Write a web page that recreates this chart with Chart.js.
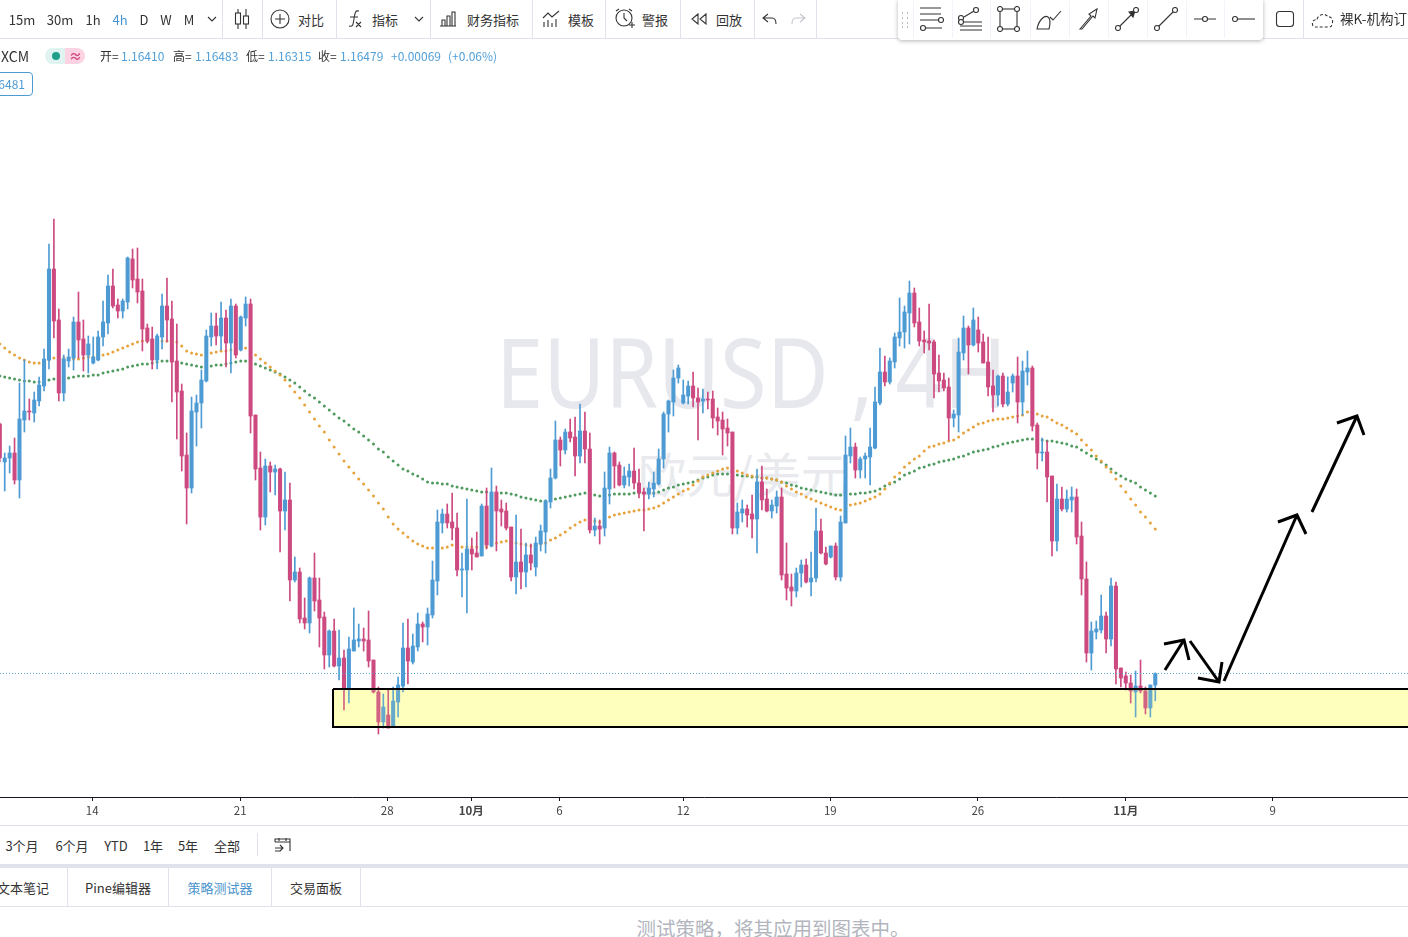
<!DOCTYPE html>
<html lang="zh">
<head>
<meta charset="utf-8">
<title>EURUSD 4H</title>
<script src="https://cdn.jsdelivr.net/npm/chart.js@4/dist/chart.umd.js"></script>
<style>
  html, body { margin: 0; padding: 0; background: #fff; overflow: hidden; }
  body { width: 1408px; height: 937px; position: relative; font-family: "Noto Sans CJK SC", "Noto Sans", sans-serif; color: #333; }
  #chart { position: absolute; left: 0; top: 40px; z-index: 1; }
  .t { position: absolute; white-space: nowrap; transform: translate(-50%, -50%); font-size: 13px; line-height: 1; z-index: 2; }
  .l { transform: translate(0, -50%); }
  .sep { position: absolute; width: 1px; background: #e0e3eb; z-index: 2; }
  .hr { position: absolute; left: 0; width: 1408px; height: 1px; background: #e0e3eb; z-index: 2; }
  .mark { position: absolute; white-space: nowrap; color: #e7e8ed; line-height: 1; z-index: 0; }
  svg.i { position: absolute; z-index: 4; fill: none; stroke: #333; stroke-width: 1.1; }
  #float { position: absolute; left: 898px; top: 0; width: 365px; height: 40px; background: #fff; border-radius: 0 0 4px 4px; box-shadow: 0 1px 4px rgba(0,0,0,.3); z-index: 3; }
  #tag { position: absolute; left: -10px; top: 72px; width: 41px; height: 22px; border: 1px solid #4e9bd4; border-radius: 4px; color: #4e9bd4; font-size: 12px; line-height: 22px; text-align: right; padding-right: 0; z-index: 2; }
  #tag span { margin-right: 7px; }
</style>
</head>
<body>
<div class="mark" style="left:496px;top:322px;font-size:97px;font-family:'Noto Sans';transform:scaleX(0.875);transform-origin:left top;">EURUSD , 4H</div>
<div class="mark" style="left:638px;top:448px;font-size:48px;color:#e9eaee;">欧元/美元</div>
<canvas id="chart" width="1408" height="785"></canvas>
<div id="float"></div>
<div id="tag"><span>6481</span></div>
<script>
// prices, one entry per 4h candle
const highs = [
1.17982,1.17802,1.17844,1.17892,1.18222,1.18360,1.18126,1.18168,1.18258,1.18426,1.19056,1.19206,1.18666,1.18390,1.18426,1.18618,1.18768,1.18600,1.18504,1.18498,
1.18534,1.18714,1.18870,1.18906,1.18726,1.18726,1.18978,1.19026,1.19032,1.18846,1.18576,1.18558,1.18516,1.18756,1.18852,1.18714,1.18576,1.18216,1.17922,1.18138,
1.18150,1.18300,1.18540,1.18642,1.18642,1.18708,1.18660,1.18726,1.18696,1.18624,1.18738,1.18726,1.18030,1.17808,1.17766,1.17748,1.17730,1.17712,1.17688,1.17622,
1.17178,1.17112,1.16932,1.17058,1.17202,1.17052,1.16848,1.16740,1.16806,1.16740,1.16620,1.16698,1.16872,1.16776,1.16752,1.16854,1.16560,1.16398,1.16356,1.16380,
1.16398,1.16458,1.16782,1.16806,1.16716,1.16842,1.16788,1.16872,1.17154,1.17460,1.17466,1.17496,1.17562,1.17442,1.17202,1.17526,1.17292,1.17328,1.17496,1.17592,
1.17712,1.17604,1.17520,1.17502,1.17358,1.17430,1.17346,1.17262,1.17256,1.17298,1.17370,1.17520,1.17706,1.17994,1.17898,1.17946,1.18006,1.18018,1.18096,1.18048,
1.17922,1.17412,1.17400,1.17688,1.17838,1.17808,1.17748,1.17718,1.17736,1.17832,1.17706,1.17592,1.17628,1.17688,1.17826,1.18048,1.18120,1.18300,1.18330,1.18240,
1.18234,1.18288,1.18192,1.18186,1.18168,1.18174,1.18072,1.18048,1.18006,1.17928,1.17502,1.17520,1.17490,1.17550,1.17706,1.17724,1.17586,1.17520,1.17574,1.17592,
1.17262,1.17076,1.17112,1.17160,1.17166,1.17208,1.17472,1.17406,1.17238,1.17244,1.17262,1.17424,1.17904,1.17952,1.17862,1.17778,1.17802,1.17952,1.18198,1.18432,
1.18384,1.18372,1.18522,1.18732,1.18684,1.18834,1.18792,1.18672,1.18534,1.18696,1.18480,1.18390,1.18282,1.18252,1.18060,1.18492,1.18624,1.18564,1.18672,1.18618,
1.18516,1.18498,1.18300,1.18270,1.18282,1.18258,1.18276,1.18378,1.18354,1.18414,1.18324,1.17982,1.17892,1.17874,1.17664,1.17616,1.17598,1.17580,1.17598,1.17586,
1.17388,1.17148,1.16788,1.16794,1.16950,1.16848,1.17052,1.17028,1.16512,1.16488,1.16470,1.16494,1.16560,1.16398,1.16410,1.16483];
const lows = [
1.17748,1.17574,1.17682,1.17616,1.17532,1.17928,1.18000,1.17988,1.18084,1.18174,1.18306,1.18492,1.18114,1.18114,1.18318,1.18300,1.18372,1.18294,1.18282,1.18336,
1.18354,1.18444,1.18516,1.18672,1.18612,1.18612,1.18666,1.18792,1.18702,1.18414,1.18462,1.18306,1.18306,1.18426,1.18468,1.18108,1.17886,1.17694,1.17376,1.17562,
1.17844,1.17952,1.18228,1.18444,1.18450,1.18420,1.18318,1.18282,1.18372,1.18414,1.18564,1.17922,1.17640,1.17340,1.17370,1.17568,1.17550,1.17208,1.17340,1.16914,
1.17028,1.16782,1.16746,1.16722,1.16854,1.16638,1.16506,1.16518,1.16518,1.16440,1.16260,1.16302,1.16614,1.16638,1.16614,1.16518,1.16362,1.16116,1.16152,1.16152,
1.16158,1.16218,1.16368,1.16416,1.16536,1.16614,1.16668,1.16650,1.16812,1.16950,1.17322,1.17352,1.17280,1.17064,1.16938,1.16842,1.17100,1.17178,1.17184,1.17226,
1.17238,1.17214,1.17364,1.17340,1.17034,1.16956,1.16986,1.16998,1.17100,1.17064,1.17214,1.17202,1.17472,1.17646,1.17724,1.17796,1.17868,1.17664,1.17742,1.17742,
1.17322,1.17304,1.17256,1.17304,1.17496,1.17592,1.17604,1.17592,1.17604,1.17586,1.17532,1.17334,1.17526,1.17538,1.17610,1.17712,1.17928,1.18024,1.18222,1.18096,
1.18096,1.18078,1.17880,1.18042,1.18066,1.17952,1.17910,1.17790,1.17844,1.17316,1.17316,1.17388,1.17358,1.17292,1.17202,1.17460,1.17448,1.17412,1.17442,1.17040,
1.16920,1.16884,1.16938,1.16998,1.17022,1.16944,1.17028,1.17196,1.17130,1.17172,1.17040,1.17034,1.17382,1.17742,1.17652,1.17652,1.17652,1.17610,1.17826,1.18090,
1.18204,1.18216,1.18312,1.18444,1.18432,1.18456,1.18558,1.18444,1.18402,1.18420,1.18132,1.18168,1.18174,1.17880,1.17958,1.17928,1.18360,1.18276,1.18444,1.18408,
1.18342,1.18144,1.18048,1.18084,1.18078,1.18084,1.18168,1.17982,1.18030,1.18210,1.17934,1.17706,1.17754,1.17508,1.17184,1.17214,1.17454,1.17448,1.17448,1.17256,
1.16950,1.16548,1.16500,1.16686,1.16722,1.16602,1.16644,1.16416,1.16398,1.16380,1.16302,1.16218,1.16362,1.16236,1.16218,1.16315];
const opens = [
1.17976,1.17748,1.17772,1.17802,1.17640,1.18000,1.18054,1.18042,1.18114,1.18204,
1.18360,1.18906,1.18600,1.18162,1.18354,1.18372,1.18588,1.18486,1.18390,1.18342,
1.18360,1.18498,1.18582,1.18804,1.18690,1.18654,1.18708,1.18966,1.18846,1.18774,
1.18552,1.18486,1.18360,1.18498,1.18684,1.18606,1.18354,1.18174,1.17790,1.17592,
1.18048,1.18102,1.18234,1.18498,1.18564,1.18504,1.18612,1.18462,1.18684,1.18420,
1.18612,1.18696,1.18030,1.17712,1.17418,1.17724,1.17688,1.17706,1.17454,1.17520,
1.17040,1.17088,1.16812,1.16782,1.17052,1.16920,1.16818,1.16590,1.16734,1.16524,
1.16572,1.16392,1.16614,1.16674,1.16686,1.16680,1.16560,1.16368,1.16188,1.16230,
1.16158,1.16308,1.16404,1.16632,1.16548,1.16638,1.16776,1.16758,1.16830,1.17034,
1.17382,1.17436,1.17388,1.17352,1.17100,1.17100,1.17226,1.17202,1.17184,1.17484,
1.17244,1.17568,1.17466,1.17454,1.17358,1.17058,1.17148,1.17088,1.17190,1.17118,
1.17256,1.17328,1.17508,1.17652,1.17880,1.17820,1.17928,1.17898,1.17784,1.17934,
1.17826,1.17340,1.17364,1.17352,1.17586,1.17802,1.17730,1.17610,1.17658,1.17694,
1.17622,1.17568,1.17556,1.17586,1.17616,1.17766,1.18036,1.18108,1.18252,1.18102,
1.18144,1.18204,1.18132,1.18114,1.18126,1.18126,1.18018,1.18000,1.17952,1.17928,
1.17352,1.17442,1.17466,1.17436,1.17406,1.17628,1.17526,1.17454,1.17484,1.17538,
1.17076,1.16998,1.16974,1.17082,1.17130,1.17028,1.17052,1.17334,1.17202,1.17178,
1.17244,1.17058,1.17382,1.17784,1.17838,1.17700,1.17766,1.17778,1.17832,1.18102,
1.18288,1.18228,1.18348,1.18492,1.18528,1.18642,1.18762,1.18588,1.18480,1.18474,
1.18468,1.18282,1.18240,1.18198,1.18012,1.18030,1.18402,1.18552,1.18450,1.18540,
1.18468,1.18348,1.18204,1.18150,1.18264,1.18096,1.18222,1.18264,1.18108,1.18288,
1.18312,1.17970,1.17802,1.17808,1.17664,1.17274,1.17526,1.17466,1.17520,1.17538,
1.17304,1.17046,1.16602,1.16728,1.16740,1.16824,1.16686,1.17004,1.16512,1.16464,
1.16422,1.16368,1.16404,1.16374,1.16272,1.16410];
const closes = [
1.17772,1.17772,1.17802,1.17640,1.18006,1.18054,1.18048,1.18120,1.18210,1.18366,
1.18906,1.18594,1.18162,1.18366,1.18378,1.18588,1.18480,1.18390,1.18456,1.18378,
1.18498,1.18588,1.18804,1.18684,1.18654,1.18714,1.18972,1.18840,1.18768,1.18546,
1.18474,1.18360,1.18504,1.18684,1.18600,1.18348,1.18168,1.17784,1.17592,1.18054,
1.18102,1.18240,1.18504,1.18564,1.18504,1.18612,1.18462,1.18684,1.18390,1.18618,
1.18696,1.18024,1.17706,1.17418,1.17724,1.17688,1.17706,1.17454,1.17520,1.17040,
1.17088,1.16806,1.16782,1.17052,1.16914,1.16812,1.16590,1.16734,1.16524,1.16572,
1.16392,1.16626,1.16680,1.16686,1.16674,1.16554,1.16368,1.16188,1.16278,1.16152,
1.16314,1.16410,1.16632,1.16554,1.16644,1.16776,1.16758,1.16836,1.17040,1.17388,
1.17436,1.17382,1.17352,1.17100,1.17106,1.17226,1.17196,1.17178,1.17484,1.17250,
1.17568,1.17454,1.17448,1.17352,1.17058,1.17148,1.17088,1.17190,1.17142,1.17262,
1.17334,1.17514,1.17652,1.17880,1.17820,1.17928,1.17892,1.17784,1.17934,1.17826,
1.17340,1.17364,1.17346,1.17592,1.17802,1.17724,1.17610,1.17664,1.17694,1.17622,
1.17562,1.17556,1.17592,1.17622,1.17766,1.18036,1.18114,1.18252,1.18312,1.18150,
1.18204,1.18132,1.18108,1.18126,1.18120,1.18012,1.17994,1.17946,1.17922,1.17352,
1.17448,1.17466,1.17430,1.17406,1.17628,1.17520,1.17454,1.17490,1.17538,1.17070,
1.16992,1.16974,1.17082,1.17130,1.17028,1.17052,1.17334,1.17202,1.17136,1.17244,
1.17058,1.17388,1.17790,1.17838,1.17700,1.17766,1.17784,1.17838,1.18108,1.18288,
1.18228,1.18354,1.18498,1.18528,1.18648,1.18762,1.18582,1.18474,1.18468,1.18462,
1.18276,1.18234,1.18192,1.18012,1.18036,1.18408,1.18552,1.18450,1.18600,1.18462,
1.18342,1.18198,1.18150,1.18264,1.18096,1.18168,1.18264,1.18108,1.18294,1.18312,
1.17964,1.17802,1.17808,1.17658,1.17274,1.17526,1.17466,1.17526,1.17538,1.17298,
1.17046,1.16602,1.16734,1.16746,1.16824,1.16686,1.17004,1.16506,1.16452,1.16422,
1.16374,1.16404,1.16374,1.16272,1.16410,1.16479];

// the two moving averages
const slowMA = [
1.18264,1.18258,1.18252,1.18246,1.18240,1.18234,1.18234,1.18228,1.18228,1.18234,1.18240,1.18246,1.18246,1.18246,1.18252,1.18258,1.18264,1.18264,1.18264,1.18270,
1.18270,1.18282,1.18288,1.18294,1.18300,1.18306,1.18318,1.18324,1.18330,1.18336,1.18336,1.18342,1.18348,1.18354,1.18354,1.18354,1.18348,1.18342,1.18336,1.18330,
1.18324,1.18318,1.18318,1.18324,1.18330,1.18330,1.18336,1.18342,1.18348,1.18354,1.18354,1.18348,1.18336,1.18324,1.18312,1.18300,1.18288,1.18276,1.18258,1.18240,
1.18222,1.18198,1.18174,1.18150,1.18132,1.18108,1.18084,1.18060,1.18036,1.18012,1.17994,1.17970,1.17946,1.17928,1.17904,1.17880,1.17856,1.17826,1.17808,1.17778,
1.17754,1.17730,1.17706,1.17694,1.17676,1.17664,1.17646,1.17628,1.17622,1.17622,1.17616,1.17616,1.17604,1.17598,1.17592,1.17586,1.17580,1.17574,1.17568,1.17568,
1.17562,1.17562,1.17562,1.17562,1.17556,1.17550,1.17538,1.17532,1.17526,1.17520,1.17514,1.17514,1.17520,1.17526,1.17532,1.17538,1.17544,1.17550,1.17556,1.17562,
1.17556,1.17550,1.17544,1.17550,1.17550,1.17556,1.17556,1.17556,1.17556,1.17562,1.17562,1.17562,1.17562,1.17562,1.17568,1.17580,1.17592,1.17598,1.17610,1.17616,
1.17622,1.17628,1.17640,1.17652,1.17658,1.17670,1.17676,1.17676,1.17676,1.17670,1.17670,1.17664,1.17664,1.17658,1.17658,1.17652,1.17652,1.17646,1.17640,1.17628,
1.17622,1.17610,1.17604,1.17592,1.17586,1.17580,1.17574,1.17568,1.17562,1.17556,1.17550,1.17550,1.17550,1.17556,1.17556,1.17562,1.17562,1.17568,1.17574,1.17586,
1.17604,1.17616,1.17628,1.17646,1.17670,1.17682,1.17694,1.17712,1.17718,1.17730,1.17736,1.17748,1.17754,1.17760,1.17766,1.17778,1.17784,1.17796,1.17808,1.17814,
1.17820,1.17826,1.17838,1.17844,1.17856,1.17862,1.17868,1.17874,1.17880,1.17886,1.17886,1.17880,1.17880,1.17874,1.17874,1.17868,1.17862,1.17856,1.17844,1.17838,
1.17820,1.17802,1.17784,1.17766,1.17748,1.17730,1.17706,1.17682,1.17664,1.17646,1.17634,1.17622,1.17598,1.17580,1.17562,1.17544];
const fastMA = [
1.18456,1.18432,1.18408,1.18390,1.18372,1.18360,1.18348,1.18342,1.18342,1.18348,1.18360,1.18372,1.18372,1.18372,1.18372,1.18366,1.18366,1.18372,1.18378,1.18378,
1.18384,1.18390,1.18396,1.18408,1.18420,1.18432,1.18444,1.18456,1.18468,1.18474,1.18474,1.18474,1.18474,1.18474,1.18474,1.18474,1.18468,1.18444,1.18414,1.18402,
1.18396,1.18390,1.18396,1.18402,1.18408,1.18414,1.18414,1.18420,1.18426,1.18432,1.18432,1.18414,1.18390,1.18366,1.18342,1.18318,1.18294,1.18270,1.18240,1.18204,
1.18168,1.18132,1.18090,1.18048,1.18006,1.17964,1.17928,1.17880,1.17838,1.17796,1.17754,1.17718,1.17682,1.17646,1.17616,1.17580,1.17544,1.17502,1.17466,1.17418,
1.17376,1.17346,1.17322,1.17298,1.17274,1.17256,1.17244,1.17232,1.17232,1.17226,1.17232,1.17238,1.17250,1.17244,1.17238,1.17238,1.17238,1.17238,1.17238,1.17238,
1.17250,1.17262,1.17268,1.17274,1.17268,1.17262,1.17256,1.17250,1.17244,1.17250,1.17256,1.17262,1.17280,1.17292,1.17310,1.17328,1.17352,1.17370,1.17388,1.17400,
1.17400,1.17394,1.17388,1.17406,1.17418,1.17430,1.17436,1.17442,1.17448,1.17454,1.17460,1.17460,1.17466,1.17472,1.17484,1.17502,1.17520,1.17538,1.17556,1.17574,
1.17586,1.17610,1.17634,1.17658,1.17670,1.17682,1.17694,1.17706,1.17712,1.17706,1.17694,1.17682,1.17670,1.17664,1.17658,1.17652,1.17652,1.17646,1.17640,1.17628,
1.17604,1.17586,1.17568,1.17556,1.17538,1.17526,1.17514,1.17502,1.17490,1.17478,1.17466,1.17460,1.17478,1.17490,1.17496,1.17502,1.17514,1.17526,1.17538,1.17556,
1.17586,1.17622,1.17658,1.17682,1.17718,1.17742,1.17766,1.17784,1.17814,1.17838,1.17844,1.17856,1.17862,1.17874,1.17880,1.17898,1.17922,1.17940,1.17958,1.17976,
1.17982,1.17994,1.18000,1.18006,1.18006,1.18012,1.18018,1.18024,1.18030,1.18048,1.18042,1.18036,1.18024,1.18018,1.18000,1.17982,1.17970,1.17952,1.17934,1.17916,
1.17880,1.17850,1.17820,1.17784,1.17754,1.17718,1.17688,1.17646,1.17604,1.17568,1.17526,1.17490,1.17448,1.17418,1.17382,1.17346];

// axis
const tickPositions = [18.8, 48.9, 78.8, 95.9, 113.8, 139, 168.9, 198.9, 229, 258.9];
const tickLabels = ['14', '21', '28', '10月', '6', '12', '19', '26', '11月', '9'];
const xRange = [0.04, 286.4];
const yRange = [1.15738, 1.2028];

// zone and hand drawn arrows, in candle index / price
const zoneX = [67.77, 300, 300, 67.77, 67.77];
const zoneY = [1.16386, 1.16386, 1.16158, 1.16158, 1.16386];
const arrowPathsX = [
  [236.97, 240.84], [236.77, 240.84, 241.86],
  [242.06, 247.96], [243.68, 247.96, 248.57],
  [248.98, 263.82], [259.95, 263.82, 265.65],
  [266.87, 276.02], [271.95, 276.02, 277.45]
];
const arrowPathsY = [
  [1.16500, 1.16680], [1.16656, 1.16680, 1.16560],
  [1.16674, 1.16428], [1.16452, 1.16428, 1.16548],
  [1.16434, 1.17430], [1.17388, 1.17430, 1.17316],
  [1.17448, 1.18024], [1.17982, 1.18024, 1.17910]
];

const UP = '#4e9bd4', DOWN = '#cc4a80';
const candleColor = (c) => { const i = c.dataIndex; return closes[i] >= opens[i] ? UP : DOWN; };
const zonePoints = zoneX.map((x, i) => ({ x, y: zoneY[i] }));

const datasets = [
  { type: 'line', data: zonePoints, borderWidth: 0, borderColor: 'transparent', pointRadius: 0, fill: 'shape', backgroundColor: '#ffffc4', order: 7 },
  { type: 'line', data: slowMA.map((y, x) => ({ x, y })), showLine: false, pointRadius: 1.5, pointBackgroundColor: '#4f9a5e', pointBorderWidth: 0, order: 6 },
  { type: 'line', data: fastMA.map((y, x) => ({ x, y })), showLine: false, pointRadius: 1.5, pointBackgroundColor: '#e6a23c', pointBorderWidth: 0, order: 5 },
  { type: 'bar', data: highs.map((h, x) => ({ x, y: [lows[x], h] })), backgroundColor: candleColor, barThickness: 1, grouped: false, order: 4 },
  { type: 'bar', data: opens.map((o, x) => ({ x, y: [o, closes[x]] })), backgroundColor: candleColor, barThickness: 3.4, minBarLength: 1, grouped: false, order: 3 },
  { type: 'line', data: zonePoints, borderColor: '#000', borderWidth: 2, pointRadius: 0, fill: 'shape', backgroundColor: 'rgba(255,255,150,0.14)', order: 2 },
  { type: 'line', data: [{ x: xRange[0], y: closes[closes.length - 1] }, { x: xRange[1], y: closes[closes.length - 1] }], borderColor: '#5aa3d6', borderWidth: 1, borderDash: [1, 2], pointRadius: 0, order: 1 }
];
arrowPathsX.forEach((xs, k) => {
  datasets.push({ type: 'line', data: xs.map((x, i) => ({ x, y: arrowPathsY[k][i] })), borderColor: '#000', borderWidth: 3, pointRadius: 0, order: 0 });
});

new Chart(document.getElementById('chart'), {
  type: 'bar',
  data: { datasets },
  options: {
    responsive: false,
    animation: false,
    events: [],
    layout: { padding: 0, autoPadding: false },
    plugins: { legend: { display: false }, tooltip: { enabled: false } },
    scales: {
      x: {
        type: 'linear',
        offset: false,
        min: xRange[0],
        max: xRange[1],
        afterBuildTicks: (s) => { s.ticks = tickPositions.map((value) => ({ value })); },
        afterFit: (s) => { s.height = 28; },
        grid: { offset: false, drawOnChartArea: false, tickLength: 4, tickColor: '#131722', tickWidth: 1 },
        border: { color: '#131722', width: 1 },
        ticks: {
          autoSkip: false,
          maxRotation: 0,
          padding: 3,
          color: '#444',
          callback: (v, i) => tickLabels[i],
          font: (c) => ({ family: '"Noto Sans CJK SC", "Noto Sans"', size: 11.5, weight: String(tickLabels[c.index]).includes('月') ? 'bold' : 'normal' })
        }
      },
      y: { display: false, min: yRange[0], max: yRange[1] }
    }
  }
});

// page chrome round the chart
const BLUE = '#4a93cc';
function text(str, x, y, opts) {
  const o = opts || {};
  const el = document.createElement('div');
  el.className = 't' + (o.left ? ' l' : '');
  el.textContent = str;
  el.style.left = x + 'px';
  el.style.top = y + 'px';
  if (o.size) el.style.fontSize = o.size + 'px';
  if (o.color) el.style.color = o.color;
  if (o.z) el.style.zIndex = o.z;
  document.body.appendChild(el);
}
function sep(x, y, h, z, c) {
  const el = document.createElement('div');
  el.className = 'sep';
  el.style.cssText = `left:${x}px;top:${y}px;height:${h}px;` + (z ? `z-index:${z};` : '') + (c ? `background:${c};` : '');
  document.body.appendChild(el);
}
function hr(y, h, c) {
  const el = document.createElement('div');
  el.className = 'hr';
  el.style.cssText = `top:${y}px;` + (h ? `height:${h}px;` : '') + (c ? `background:${c};` : '');
  document.body.appendChild(el);
}
function icon(x, y, w, h, body, extra) {
  document.body.insertAdjacentHTML('beforeend', `<svg class="i" style="left:${x - w / 2}px;top:${y - h / 2}px;${extra || ''}" width="${w}" height="${h}" viewBox="0 0 ${w} ${h}">${body}</svg>`);
}

hr(38);
[['15m', 22], ['30m', 60], ['1h', 93], ['D', 144], ['W', 166], ['M', 189], ['对比', 311], ['指标', 385], ['财务指标', 493], ['模板', 581], ['警报', 655], ['回放', 729]]
  .forEach(([s, x]) => text(s, x, 19));
text('4h', 120, 19, { color: BLUE });
[222, 262, 336, 430, 532, 605, 680, 754, 816, 1303].forEach((x) => sep(x, 0, 38));
const chev = '<path d="M1 1l4 4 4-4"/>';
icon(212, 19, 10, 6, chev);
icon(419, 19, 10, 6, chev);
icon(242, 19, 16, 22, '<path d="M4 1v20M12 1v20" /><rect x="1.5" y="5" width="5" height="11" fill="#fff"/><rect x="9.5" y="8" width="5" height="8" fill="#fff"/>');
icon(280, 19, 20, 20, '<circle cx="10" cy="10" r="9"/><path d="M10 5v10M5 10h10"/>');
icon(355, 19, 16, 20, '<path d="M12 2c-4-1-4 2-5 8s-1 8-5 7M3 8h8M9 13l5 5M14 13l-5 5"/>');
icon(448, 19, 18, 16, '<path d="M1 15h16M3 15V9h3v6M8 15V5h3v10M13 15V1h3v14"/>');
icon(551, 19, 18, 18, '<path d="M1 8l5-5 4 4 7-6M2 17v-5M6 17v-7M10 17v-4M14 17v-8"/>');
icon(625, 19, 22, 22, '<circle cx="10" cy="10" r="8"/><path d="M10 5v5l3 3M2 3l3-2M15 1l3 2M15 17h6M18 14v6"/>');
icon(699, 19, 16, 12, '<path d="M7 1L1 6l6 5zM15 1L9 6l6 5z"/>');
icon(770, 19, 16, 12, '<path d="M6 1L1 5l5 4M1 5h9c3 0 4 3 4 6"/>');
icon(798, 19, 16, 12, '<path d="M10 1l5 4-5 4M15 5H6C3 5 2 8 2 11"/>', 'stroke:#c4c6cc;');
text('XCM', 15, 56, { size: 14 });
// status pill
document.body.insertAdjacentHTML('beforeend', '<div style="position:absolute;left:45px;top:48px;width:40px;height:16px;border-radius:8px;overflow:hidden;z-index:2;background:linear-gradient(90deg,#dff3f1 50%,#fbd3e2 50%);"><div style="position:absolute;left:7px;top:4px;width:8px;height:8px;border-radius:50%;background:#1f9e8c;"></div><div style="position:absolute;left:24px;top:0;font-size:13px;line-height:16px;color:#d04a82;font-weight:bold;">≈</div></div>');

[['开=', 100], ['高=', 173], ['低=', 246], ['收=', 318]].forEach(([s, x]) => text(s, x, 56, { left: 1, size: 12 }));
[['1.16410', 121], ['1.16483', 195], ['1.16315', 268], ['1.16479', 340], ['+0.00069', 391], ['(+0.06%)', 448]]
  .forEach(([s, x]) => text(s, x, 56, { left: 1, size: 12, color: '#53a0d8' }));

// drawing tools palette
const knob = (x, y) => `<circle cx="${x}" cy="${y}" r="2.5" fill="#fff"/>`;
icon(905, 20, 8, 16, '<path d="M1 1h1M6 1h1M1 6h1M6 6h1M1 11h1M6 11h1M1 15h1M6 15h1" stroke="#bbb" stroke-width="2"/>');
icon(931, 19, 26, 26, '<path d="M2 2h21M2 8h21M2 14h18M2 22h3M8 22h16"/>' + knob(23, 14) + knob(5, 22));
icon(970, 19, 26, 26, '<path d="M7 11l10-6"/><path d="M3 16h22M3 20h22M3 24h22"/>' + knob(4, 12) + knob(19, 4) + knob(4, 16));
icon(1009, 19, 26, 26, '<rect x="4" y="3" width="17" height="20"/>' + knob(4, 3) + knob(21, 3) + knob(4, 23) + knob(21, 23));
icon(1049, 19, 26, 24, '<path d="M1 22c2-10 8-14 11-12s2 8 1 12zM14 10l3 3 8-9"/>');
icon(1088, 19, 22, 24, '<path d="M3 22l11-13-2-2 8-5-2 9-2-2L5 22z"/>');
icon(1127, 19, 24, 24, '<path d="M4 20L18 6"/><path d="M14 5l6-1-2 6z" fill="#333"/>' + knob(3, 21) + knob(21, 3));
icon(1166, 19, 24, 24, '<path d="M4 20L20 4"/>' + knob(3, 21) + knob(21, 3));
icon(1205, 19, 24, 8, '<path d="M1 4h8M15 4h8"/>' + knob(12, 4));
icon(1244, 19, 24, 8, '<path d="M6 4h17"/>' + knob(3, 4));
[913, 952, 990, 1030, 1069, 1108, 1147, 1186, 1224].forEach((x) => sep(x, 1, 37, 4, '#f0f3fa'));
icon(1285, 19, 20, 18, '<rect x="1.5" y="1.5" width="17" height="15" rx="3"/>');
icon(1323, 20, 24, 18, '<path d="M2 15c-2-4 1-7 4-6 0-5 8-8 11-3 3-1 6 3 4 7 0 2-1 3-3 3H4" stroke-dasharray="3 2"/>');
text('裸K-机构订', 1340, 19, { left: 1, z: 4, size: 13.5 });

// bottom panels
hr(825);
[['3个月', 22], ['6个月', 72], ['YTD', 116], ['1年', 153], ['5年', 188], ['全部', 227]].forEach(([s, x]) => text(s, x, 845));
sep(257, 833, 23);
icon(283, 845, 20, 16, '<path d="M2 5h15v9M2 5V2h15v3M6 1v3M13 1v3M2 11h8M7 8l3 3-3 3M2 14h5"/>');
hr(864, 4, '#e0e3eb');
hr(906);
[67, 168, 271, 360].forEach((x) => sep(x, 868, 38));
text('文本笔记', 23, 887);
text('Pine编辑器', 118, 887);
text('策略测试器', 220, 887, { color: BLUE });
text('交易面板', 316, 887);
text('测试策略，将其应用到图表中。', 773, 928, { size: 19.5, color: '#b2b5be' });
</script>
</body>
</html>
